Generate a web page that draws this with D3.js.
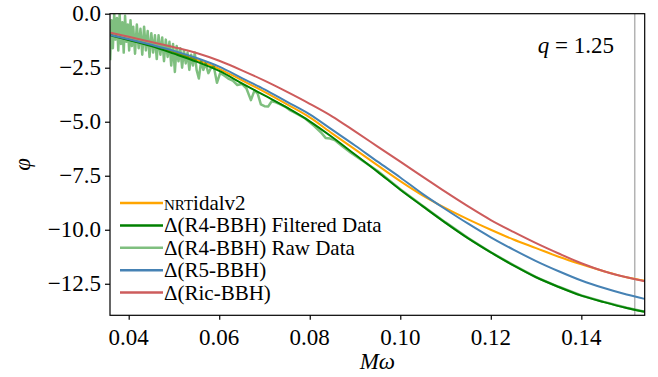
<!DOCTYPE html>
<html><head><meta charset="utf-8">
<script src="https://cdn.jsdelivr.net/npm/d3@7"></script></head>
<body style="margin:0">
<script>
// frequency grid shared by the smooth curves
const omega = [0.036, 0.040, 0.045, 0.050, 0.055, 0.060, 0.065, 0.070, 0.075, 0.080,
               0.085, 0.090, 0.095, 0.100, 0.105, 0.110, 0.115, 0.120, 0.125, 0.130,
               0.135, 0.140, 0.145, 0.150, 0.154];

const nrtidal = [-0.98, -1.20, -1.47, -1.78, -2.13, -2.55, -3.08, -3.62, -4.20, -4.80,
                 -5.55, -6.28, -7.02, -7.75, -8.42, -9.00, -9.52, -10.00, -10.45, -10.85,
                 -11.25, -11.60, -11.92, -12.20, -12.36];
const r4Filtered = [-1.00, -1.22, -1.50, -1.85, -2.22, -2.65, -3.22, -3.78, -4.35, -4.98,
                    -5.72, -6.52, -7.32, -8.15, -8.92, -9.68, -10.40, -11.05, -11.65, -12.20,
                    -12.65, -13.05, -13.35, -13.62, -13.80];
const r5 = [-0.99, -1.18, -1.44, -1.72, -2.05, -2.45, -2.98, -3.50, -4.08, -4.66,
            -5.38, -6.10, -6.85, -7.58, -8.35, -9.05, -9.72, -10.35, -10.92, -11.45,
            -11.92, -12.35, -12.70, -13.00, -13.20];
const ric = [-0.88, -1.07, -1.31, -1.55, -1.82, -2.18, -2.62, -3.10, -3.62, -4.17,
             -4.76, -5.45, -6.15, -6.85, -7.55, -8.25, -8.92, -9.55, -10.10, -10.62,
             -11.10, -11.55, -11.92, -12.20, -12.38];

// raw R4 data, read point by point (noisy at low frequency)
const rawOmega = [0.0359, 0.0362, 0.0365, 0.0368, 0.0371, 0.0374, 0.0377, 0.0380, 0.0383, 0.0386,
                  0.0389, 0.0392, 0.0395, 0.0398, 0.0401, 0.0404, 0.0407, 0.0410, 0.0414, 0.0418,
                  0.0422, 0.0426, 0.0430, 0.0434, 0.0438, 0.0442, 0.0446, 0.0450, 0.0454, 0.0458,
                  0.0462, 0.0466, 0.0470, 0.0474, 0.0478, 0.0482, 0.0486, 0.0490, 0.0494, 0.0498,
                  0.0502, 0.0506, 0.0510, 0.0514, 0.0518, 0.0522, 0.0526, 0.0530, 0.0534, 0.0538,
                  0.0542, 0.0546, 0.0550, 0.0555, 0.0560, 0.0565, 0.0570, 0.0576, 0.0582, 0.0588,
                  0.0595, 0.0602, 0.0610, 0.0620, 0.0630, 0.0640, 0.0650, 0.0660, 0.0670, 0.0678,
                  0.0685, 0.0692, 0.0700, 0.0708, 0.0716, 0.0725, 0.0735, 0.0745, 0.0755, 0.0770,
                  0.0790, 0.0810, 0.0825, 0.0835, 0.0845, 0.0855, 0.0870, 0.0890, 0.0920, 0.0950,
                  0.1000, 0.1050, 0.1100, 0.1150, 0.1200, 0.1250, 0.1300, 0.1350, 0.1400, 0.1450,
                  0.1500, 0.1540];
const rawPhi = [-2.15, -0.30, -1.60, 0.00, -1.20, -0.20, -1.70, 0.00, -1.40, -0.40,
                -1.80, -0.10, -1.30, -0.50, -1.70, -0.30, -1.50, -0.60, -1.85, -0.50,
                -1.60, -0.70, -1.90, -0.60, -1.70, -0.80, -2.00, -0.90, -1.80, -1.00,
                -2.10, -1.00, -1.90, -1.10, -2.20, -1.20, -2.00, -1.30, -2.40, -1.40,
                -2.70, -1.50, -2.20, -1.60, -2.50, -1.70, -2.30, -1.80, -2.60, -1.90,
                -2.40, -1.80, -2.60, -3.00, -2.20, -2.60, -2.30, -2.75, -2.50, -2.45,
                -3.20, -2.75, -2.85, -3.00, -3.10, -3.30, -3.25, -3.45, -4.00, -3.55,
                -3.70, -4.20, -4.28, -4.30, -4.05, -4.10, -4.20, -4.30, -4.45, -4.62,
                -4.85, -5.20, -5.50, -5.75, -5.78, -5.85, -6.10, -6.42, -6.85, -7.28,
                -8.12, -8.90, -9.66, -10.38, -11.04, -11.64, -12.19, -12.64, -13.04, -13.34,
                -13.61, -13.80];

const xTicks = [0.04, 0.06, 0.08, 0.10, 0.12, 0.14];
const yTicks = [0.0, -2.5, -5.0, -7.5, -10.0, -12.5];
const vLine = 0.1518;

const W = 658, H = 377;
const m = {left: 110, right: 644.7, top: 13.7, bottom: 315.3};
const face = "'Liberation Serif', 'DejaVu Serif', serif";

const svg = d3.select("body").append("svg")
    .attr("width", W).attr("height", H)
    .attr("font-family", face)
    .style("font-family", face);

const x = d3.scaleLinear().domain([0.03587, 0.154]).range([m.left, m.right]);
const y = d3.scaleLinear().domain([-13.96, 0]).range([m.bottom, m.top]);

svg.append("clipPath").attr("id", "clip")
    .append("rect")
    .attr("x", m.left).attr("y", m.top)
    .attr("width", m.right - m.left).attr("height", m.bottom - m.top);

const plot = svg.append("g").attr("clip-path", "url(#clip)");

// vertical marker line
plot.append("line")
    .attr("x1", x(vLine)).attr("x2", x(vLine))
    .attr("y1", m.top).attr("y2", m.bottom)
    .attr("stroke", "#b3b3b3")
    .attr("stroke-width", 1.5);

const smooth = d3.line()
    .x(d => x(d[0]))
    .y(d => y(d[1]))
    .curve(d3.curveMonotoneX);

const series = [
    {key: "nrt", vals: nrtidal, color: "#ffa500", width: 2},
    {key: "r4f", vals: r4Filtered, color: "#008000", width: 2},
    {key: "raw", raw: true, color: "#008000", width: 2.5, opacity: 0.5},
    {key: "r5", vals: r5, color: "#4682b4", width: 2},
    {key: "ric", vals: ric, color: "#cd5c5c", width: 2}
];

series.forEach(s => {
    const pts = s.raw
        ? rawOmega.map((w, i) => [w, rawPhi[i]])
        : omega.map((w, i) => [w, s.vals[i]]);
    plot.append("path")
        .attr("d", s.raw ? d3.line().x(d => x(d[0])).y(d => y(d[1]))(pts) : smooth(pts))
        .attr("fill", "none")
        .attr("stroke", s.color)
        .attr("stroke-opacity", s.opacity || 1)
        .attr("stroke-width", s.width)
        .attr("stroke-linejoin", "round");
});

// axes: ticks from d3, labels written separately
const xAxis = d3.axisBottom(x).tickValues(xTicks).tickSize(4.5).tickFormat("");
const yAxis = d3.axisLeft(y).tickValues(yTicks).tickSize(5).tickFormat("");
const gx = svg.append("g").attr("transform", `translate(0,${m.bottom})`).call(xAxis);
const gy = svg.append("g").attr("transform", `translate(${m.left},0)`).call(yAxis);
[gx, gy].forEach(g => {
    g.select(".domain").remove();
    g.selectAll("line").attr("stroke", "#000").attr("stroke-width", 1.2);
    g.selectAll("text").remove();
});

function label(px, py, str, size, anchor) {
    return svg.append("text")
        .attr("x", px).attr("y", py)
        .attr("text-anchor", anchor)
        .attr("font-family", face)
        .attr("font-size", size)
        .style("font-family", face)
        .style("font-size", size + "px")
        .text(str);
}

xTicks.forEach(t => label(x(t), m.bottom + 30, d3.format(".2f")(t), 23, "middle"));
yTicks.forEach(t => label(m.left - 9, y(t) + 7.5,
    d3.format(".1f")(t).replace("-", "\u2212"), 23, "end"));

// frame
svg.append("rect")
    .attr("x", m.left).attr("y", m.top)
    .attr("width", m.right - m.left).attr("height", m.bottom - m.top)
    .attr("fill", "none")
    .attr("stroke", "#000")
    .attr("stroke-width", 1.2);

// axis titles
label((m.left + m.right) / 2, 369, "M\u03c9", 23, "middle").style("font-style", "italic");
label(0, 0, "\u03c6", 23, "middle")
    .attr("transform", `translate(30,${(m.top + m.bottom) / 2}) rotate(-90)`)
    .style("font-style", "italic");

const qLabel = label(614, 53, "", 23, "end");
qLabel.append("tspan").style("font-style", "italic").text("q");
qLabel.append("tspan").text(" = 1.25");

// legend
const legendRows = [
    {label: null, color: "#ffa500", opacity: 1},
    {label: "\u0394(R4-BBH) Filtered Data", color: "#008000", opacity: 1},
    {label: "\u0394(R4-BBH) Raw Data", color: "#008000", opacity: 0.5},
    {label: "\u0394(R5-BBH)", color: "#4682b4", opacity: 1},
    {label: "\u0394(Ric-BBH)", color: "#cd5c5c", opacity: 1}
];
legendRows.forEach((r, i) => {
    const ly = 203 + i * 22.4;
    svg.append("line")
        .attr("x1", 120).attr("x2", 163)
        .attr("y1", ly).attr("y2", ly)
        .attr("stroke", r.color)
        .attr("stroke-opacity", r.opacity)
        .attr("stroke-width", 2.5);
    const t = label(164, ly + 7, r.label === null ? "" : r.label, 21, "start");
    if (r.label === null) {
        t.append("tspan").style("font-size", "15px").text("NRT");
        t.append("tspan").text("idalv2");
    }
});
</script>
</body>
</html>
